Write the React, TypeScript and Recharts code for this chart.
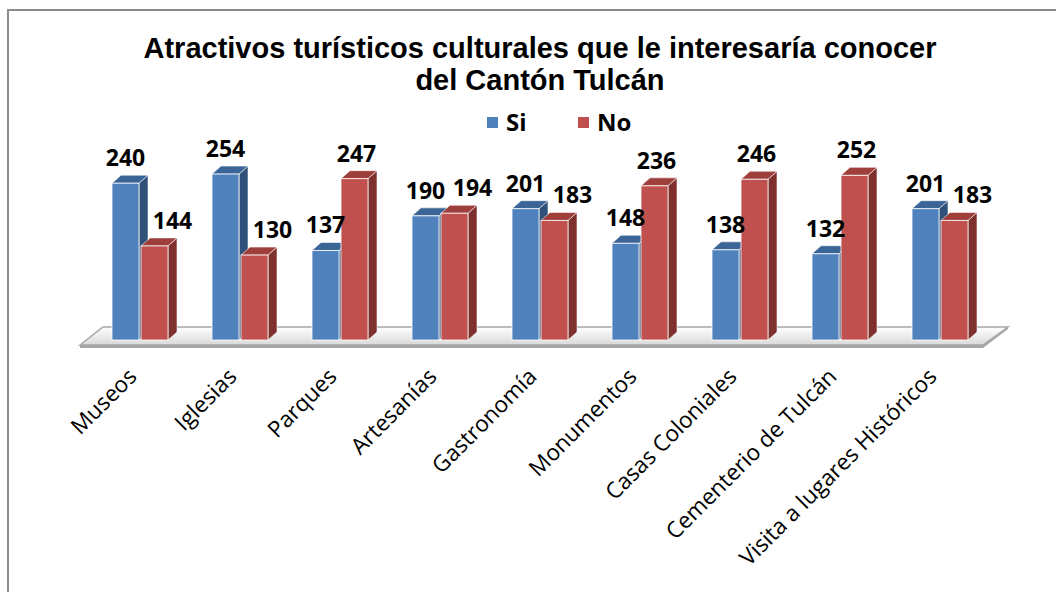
import React from "react";
import { BarChart, Bar, XAxis, YAxis, LabelList, ReferenceArea } from "recharts";

const categories = [
  "Museos",
  "Iglesias",
  "Parques",
  "Artesanías",
  "Gastronomía",
  "Monumentos",
  "Casas Coloniales",
  "Cementerio de Tulcán",
  "Visita a lugares Históricos",
];
const siValues = [240, 254, 137, 190, 201, 148, 138, 132, 201];
const noValues = [144, 130, 247, 194, 183, 236, 246, 252, 183];

const data = categories.map((name, i) => ({ name, si: siValues[i], no: noValues[i] }));

const DX = 9;
const DY = 8;

const palette = {
  si: { front: "#4F81BD", top: "#3C6597", side: "#2F5079" },
  no: { front: "#C0504D", top: "#9E3F3C", side: "#7E302E" },
};

function make3DBar(key: "si" | "no") {
  const c = palette[key];
  return (props: any) => {
    const { x, y, width, height } = props;
    if (height <= 0) return null;
    const r = x + width;
    const b = y + height;
    return (
      <g>
        <polygon
          points={`${r},${y} ${r + DX},${y - DY} ${r + DX},${b - DY} ${r},${b}`}
          fill={c.side}
          stroke="#ffffff"
          strokeWidth={0.8}
          strokeOpacity={0.7}
        />
        <polygon
          points={`${x},${y} ${x + DX},${y - DY} ${r + DX},${y - DY} ${r},${y}`}
          fill={c.top}
          stroke="#ffffff"
          strokeWidth={0.8}
          strokeOpacity={0.7}
        />
        <rect x={x} y={y} width={width} height={height} fill={c.front} stroke="#ffffff" strokeWidth={1} strokeOpacity={0.8} />
      </g>
    );
  };
}

function Floor(props: any) {
  const { x, width, y, height } = props;
  const base = y + height;
  const l = x;
  const r = x + width;
  const fl = l - 10;
  const fr = r - 7;
  const fy = base + 5;
  const by = base - 13;
  return (
    <g>
      <defs>
        <linearGradient id="floorGrad" x1="0" y1="0" x2="0" y2="1">
          <stop offset="0%" stopColor="#ffffff" />
          <stop offset="100%" stopColor="#d9d9d9" />
        </linearGradient>
      </defs>
      <polygon
        points={`${fl},${fy} ${fr},${fy} ${fr},${fy + 3} ${fl},${fy + 3}`}
        fill="#a6a6a6"
      />
      <polygon
        points={`${fr},${fy} ${r + 18},${by} ${r + 18},${by + 2} ${fr},${fy + 3}`}
        fill="#a6a6a6"
      />
      <polygon
        points={`${fl},${fy} ${l + 13},${by} ${r + 18},${by} ${fr},${fy}`}
        fill="url(#floorGrad)"
        stroke="#a6a6a6"
        strokeWidth={1.5}
      />
    </g>
  );
}

function makeLabel(key: "si" | "no") {
  return (props: any) => {
    const { x, y, width, index, value } = props;
    let shift = 0;
    if (key === "no") {
      shift = noValues[index] < siValues[index] + 20 ? 18 : 2;
    }
    return (
      <text
        x={x + width / 2 + shift}
        y={y - 17}
        textAnchor="middle"
        fontFamily="Open Sans"
        fontWeight={700}
        fontSize={23}
        fill="#000"
      >
        {value}
      </text>
    );
  };
}

function CategoryTick(props: any) {
  const { x, y, payload } = props;
  const ax = x - 2;
  const ay = y + 36;
  return (
    <text
      x={ax}
      y={ay}
      textAnchor="end"
      transform={`rotate(-45, ${ax}, ${ay})`}
      fontFamily="Open Sans"
      fontSize={22.5}
      fill="#000"
    >
      {payload.value}
    </text>
  );
}

function LegendItem({ color, label, left }: { color: string; label: string; left: number }) {
  return (
    <div style={{ position: "absolute", left, top: 108, display: "flex", alignItems: "center" }}>
      <span style={{ width: 11, height: 11, background: color, display: "inline-block", marginRight: 8 }} />
      <span style={{ fontFamily: "Open Sans", fontWeight: 700, fontSize: 24, lineHeight: "28px", color: "#000" }}>{label}</span>
    </div>
  );
}

export default function App() {
  return (
    <div style={{ position: "absolute", left: 0, top: 0, width: 1056, height: 592, background: "#fff", overflow: "hidden" }}>
      <div
        style={{
          position: "absolute",
          left: 7,
          top: 9,
          width: 1100,
          height: 700,
          borderLeft: "2px solid #8c8c8c",
          borderTop: "2px solid #8c8c8c",
        }}
      />
      <div
        style={{
          position: "absolute",
          left: 0,
          top: 32,
          width: 1080,
          textAlign: "center",
          fontFamily: "Liberation Sans",
          fontWeight: 700,
          fontSize: 29,
          lineHeight: "32px",
          color: "#000",
        }}
      >
        Atractivos turísticos culturales que le interesaría conocer
        <br />
        del Cantón Tulcán
      </div>
      <LegendItem color="#4F81BD" label="Si" left={487} />
      <LegendItem color="#C0504D" label="No" left={578} />
      <div style={{ position: "absolute", left: 0, top: 0 }}>
        <BarChart
          width={1056}
          height={592}
          data={data}
          margin={{ top: 144, right: 66, bottom: 12, left: 90 }}
          barSize={27}
          barGap={2}
        >
          <XAxis
            dataKey="name"
            axisLine={false}
            tickLine={false}
            tickSize={0}
            height={240}
            interval={0}
            tick={<CategoryTick />}
          />
          <YAxis hide domain={[0, 300]} />
          <ReferenceArea y1={0} y2={1} ifOverflow="visible" shape={<Floor />} />
          <Bar dataKey="si" name="Si" fill="#4F81BD" shape={make3DBar("si")} isAnimationActive={false}>
            <LabelList dataKey="si" content={makeLabel("si")} />
          </Bar>
          <Bar dataKey="no" name="No" fill="#C0504D" shape={make3DBar("no")} isAnimationActive={false}>
            <LabelList dataKey="no" content={makeLabel("no")} />
          </Bar>
        </BarChart>
      </div>
    </div>
  );
}
